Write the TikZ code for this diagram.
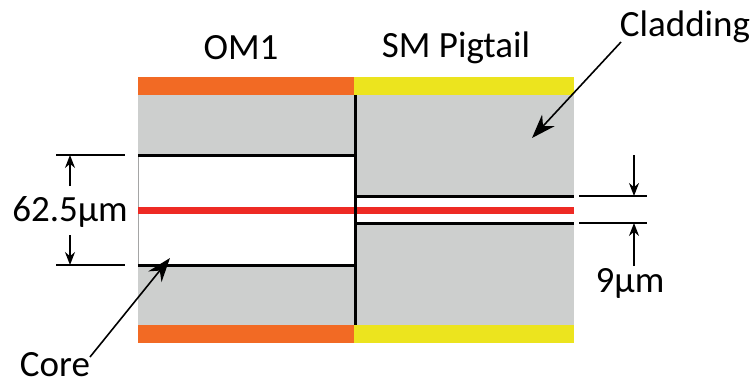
\documentclass[tikz,border=0pt]{standalone}
\usepackage{fontspec}
\setmainfont{Carlito}
\usetikzlibrary{arrows.meta}
\definecolor{jacket1}{HTML}{F26A24}
\definecolor{jacket2}{HTML}{ECE41E}
\definecolor{clad}{HTML}{CDCFCE}
\definecolor{coreline}{HTML}{EE2A24}
\tikzset{
  lbl/.style={font=\fontsize{37}{40}\selectfont, inner sep=0pt},
  wall/.style={line width=3pt, black},
  dimline/.style={line width=1.4pt, black},
  dimarrow/.style={line width=1.4pt, -{Stealth[length=13pt,width=10pt]}},
  callout/.style={line width=1.6pt, -{Stealth[length=24pt,width=17pt]}},
}
\begin{document}
\begin{tikzpicture}[x=1pt,y=-1pt]
\useasboundingbox (0,0) rectangle (754,388);
% cladding of both fibres
\fill[clad] (138,95) rectangle (574,325);
% OM1 core region
\fill[white] (138,155) rectangle (354,265);
\draw[line width=0.6pt, clad!80!black] (138.3,155) -- (138.3,265);
% SM core region
\fill[white] (354,196) rectangle (574,223);
% jackets
\fill[jacket1] (138,77) rectangle (354,95);
\fill[jacket2] (354,77) rectangle (574,95);
\fill[jacket1] (138,325) rectangle (354,343);
\fill[jacket2] (354,325) rectangle (574,343);
% core boundaries
\draw[wall] (138,155) -- (354,155);
\draw[wall] (138,265) -- (354,265);
\draw[wall] (354,196) -- (574,196);
\draw[wall] (354,223) -- (574,223);
% light path
\draw[line width=7pt, coreline] (138,210) -- (574,210);
% joint face
\draw[wall] (355,95) -- (355,325);

% labels
\node[lbl] (om) at (241,48) {OM1};
\node[lbl] (sm) at (456,48) {SM Pigtail};
\node[lbl] (cl) at (685,27) {Cladding};
\node[lbl] (co) at (55,365) {Core};
\node[lbl] (d1) at (70,212) {62.5µm};
\node[lbl] (d2) at (630,283) {9µm};

% dimension 62.5
\coordinate (a1) at (56,155);
\coordinate (b1) at (125,155);
\coordinate (a2) at (56,265);
\coordinate (b2) at (125,265);
\draw[dimline] (a1) -- (b1);
\draw[dimline] (a2) -- (b2);
\coordinate (t1) at (70,155);
\coordinate (t2) at (70,265);
\coordinate (s1) at (70,186);
\coordinate (s2) at (70,235);
\draw[dimarrow] (s1) -- (t1);
\draw[dimarrow] (s2) -- (t2);

% dimension 9
\coordinate (c1) at (579,196);
\coordinate (e1) at (647,196);
\coordinate (c2) at (579,223);
\coordinate (e2) at (647,223);
\draw[dimline] (c1) -- (e1);
\draw[dimline] (c2) -- (e2);
\coordinate (u1) at (634,196);
\coordinate (u2) at (634,223);
\coordinate (v1) at (634,155);
\coordinate (v2) at (634,266);
\draw[dimarrow] (v1) -- (u1);
\draw[dimarrow] (v2) -- (u2);

% callouts
\coordinate (clend) at (532,138);
\coordinate (clstart) at (621,42);
\draw[callout] (clstart) -- (clend);
\coordinate (coend) at (170,258);
\coordinate (costart) at (90,357);
\draw[callout] (costart) -- (coend);
\end{tikzpicture}
\end{document}
